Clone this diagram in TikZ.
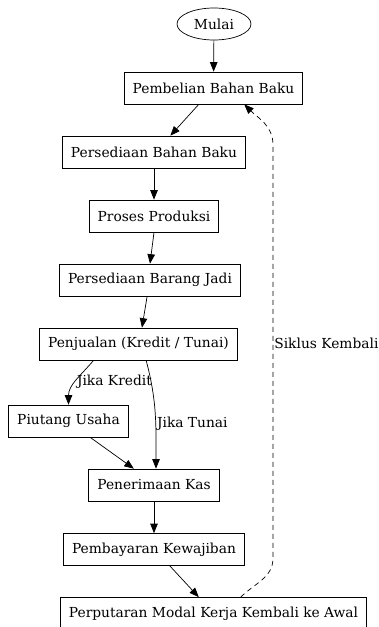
\documentclass[tikz,border=0pt]{standalone}
\usepackage{fontspec}
\setmainfont{DejaVu Serif}
\usetikzlibrary{shapes.geometric,arrows.meta}

\tikzset{
  box/.style={rectangle, draw=black, line width=0.7pt, minimum height=32pt, inner xsep=8.5pt, font=\fontsize{13.8}{15}\selectfont},
  startnode/.style={ellipse, draw=black, line width=0.7pt, minimum width=74pt, minimum height=32pt, inner sep=0pt, font=\fontsize{13.8}{15}\selectfont},
  edgelabel/.style={inner sep=1pt, font=\fontsize{13.8}{15}\selectfont}
}

\begin{document}
\begin{tikzpicture}[node distance=64pt, >={Triangle[length=9.5pt,width=7.5pt]}, line width=0.7pt]
\useasboundingbox (0,0) rectangle (378pt,-627pt);

\node[startnode] (mulai) at (214pt,-24pt) {Mulai};
\node[box, below of=mulai, xshift=-0.5pt] (beli) {Pembelian Bahan Baku};
\node[box, below of=beli, xshift=-59.5pt] (sbb) {Persediaan Bahan Baku};
\node[box, below of=sbb] (proses) {Proses Produksi};
\node[box, below of=proses, xshift=-4pt] (sbj) {Persediaan Barang Jadi};
\node[box, below of=sbj, xshift=-11.5pt] (jual) {Penjualan (Kredit / Tunai)};
\node[box, below of=jual, xshift=-70pt, yshift=-13pt] (piutang) {Piutang Usaha};
\node[box, below of=piutang, xshift=85.5pt] (kas) {Penerimaan Kas};
\node[box, below of=kas, yshift=-0.5pt] (bayar) {Pembayaran Kewajiban};
\node[box, below of=bayar, xshift=59.5pt] (putar) {Perputaran Modal Kerja Kembali ke Awal};

\draw[->] (mulai) to (beli);
\draw[->] (beli.-132) to (sbb.45);
\draw[->] (sbb) to (proses);
\draw[->] (proses.south) to (sbj.north);
\draw[->] (sbj.-100) to (jual.78);

% two ways out of the sale
\draw[->] (jual.-160) to[out=-130, in=90] node[edgelabel, pos=0.52, right] {Jika Kredit} (piutang.north);
\draw[->] (jual.-65) to[out=-75, in=90] node[edgelabel, pos=0.6, right] {Jika Tunai} (kas.83);
\draw[->] (piutang.-37) to (kas.141);

\draw[->] (kas) to (bayar);
\draw[->] (bayar.-46) to (putar.132);

% back to the start of the cycle
\coordinate (turnlow) at (273pt,-558pt);
\coordinate (turnhigh) at (273pt,-145pt);
\draw[->, dash pattern=on 5pt off 4pt] (putar.31) to[out=45, in=-90] (turnlow) -- node[edgelabel, pos=0.52, right] {Siklus Kembali} (turnhigh) to[out=90, in=-45] (beli.-28);
\end{tikzpicture}
\end{document}
